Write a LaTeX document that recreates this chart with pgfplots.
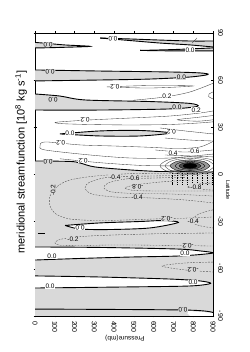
\documentclass[border=0pt]{standalone}
\usepackage{pgfplots}
\pgfplotsset{compat=1.18}
\usepackage{fontspec}
\setmainfont{Liberation Sans}
\pgfplotsset{
  zero/.style={black, line width=0.9pt, smooth},
  pos/.style={black!75, line width=0.35pt, smooth},
  neg/.style={black!70, line width=0.35pt, dash pattern=on 1.8pt off 1.2pt, smooth},
  gfill/.style={fill=black!15, draw=none, smooth},
  wfill/.style={fill=white, draw=none, smooth},
  vdash/.style={black, line width=0.7pt, dash pattern=on 1.4pt off 0.9pt},
}
\tikzset{
  lab/.style={font=\fontsize{6.5}{6.5}\selectfont, inner sep=0.4pt},
  lw/.style={lab, fill=white},
  lg/.style={lab, fill=black!15},
}
\begin{document}
\begin{tikzpicture}
\path[use as bounding box] (-35pt,-36pt) rectangle (214pt,316pt);
\begin{axis}[at={(0pt,0pt)}, anchor=south west, scale only axis,
  width=178pt, height=283pt,
  xmin=0, xmax=900, ymin=-90, ymax=90,
  xtick={0,100,...,900}, xticklabels={0,100,200,300,400,500,600,700,800,900},
  ytick={-90,-60,-30,0,30,60,90}, yticklabels={-90,-60,-30,0,30,60,90},
  yticklabel pos=right,
  xticklabel style={rotate=-90, anchor=west, font=\fontsize{7}{8}\selectfont},
  yticklabel style={rotate=-90, anchor=south, font=\fontsize{7}{8}\selectfont},
  tick align=center, major tick length=3pt,
  tick style={black, line width=0.4pt},
  axis line style={line width=0.5pt},
  axis background/.style={fill=white}]

% ---------- gray (negative) regions ----------
\addplot[fill=black!15, draw=none] coordinates {(0,1.6) (900,1.6) (900,-90) (0,-90)} -- cycle;
\addplot[gfill] coordinates {(0,8.6) (177,8.3) (228,7.3) (303,4.8) (480,2.9) (632,1.9) (708,2.2) (784,1.6) (900,1.6) (900,0) (0,0)} -- cycle;
\addplot[gfill] coordinates {(0,84.0) (60,83.4) (150,82.4) (278,81.5) (150,80.9) (60,80.6) (0,80.5)} -- cycle;
\addplot[gfill] coordinates {(329,86.8) (480,86.2) (632,85.5) (784,84.9) (900,84.9) (900,81.1) (784,82.4) (632,83.6) (480,85.2)} -- cycle;
\addplot[gfill] coordinates {(531,78.9) (708,79.5) (900,80.5) (900,78.6) (708,78.6)} -- cycle;
\addplot[gfill] coordinates {(0,66.5) (329,65.8) (683,65.2) (834,64.6) (875,63.6) (784,62.0) (581,60.7) (329,60.1) (0,59.5)} -- cycle;
\addplot[gfill] coordinates {(0,51.2) (126,49.9) (253,47.4) (581,46.4) (784,45.2) (820,43.3) (683,41.7) (329,41.0) (0,41.0)} -- cycle;
\addplot[gfill] coordinates {(126,25.8) (329,27.7) (531,28.0) (683,26.4) (531,24.5) (329,24.5) (126,25.8)};
% white (positive) pockets in the south
\addplot[wfill] coordinates {(152,-32.4) (329,-30.8) (531,-29.9) (647,-29.3) (725,-30.5) (581,-34.0) (379,-35.0) (228,-34.7) (152,-32.4)};
\addplot[wfill] coordinates {(0,-46.1) (329,-46.4) (718,-47.4) (834,-48.6) (898,-50.0) (733,-51.8) (480,-52.5) (228,-53.4) (0,-54.4)} -- cycle;
\addplot[wfill] coordinates {(0,-64.5) (329,-65.2) (683,-66.5) (834,-67.7) (888,-69.3) (784,-70.9) (480,-71.5) (0,-72.2)} -- cycle;
\addplot[fill=white, draw=none] coordinates {(758,-86.6) (900,-88.0) (900,-90) (784,-90)} -- cycle;

% ---------- positive contours ----------
\addplot[pos] coordinates {(364,55.7) (581,56.6) (799,56.3) (581,55.0) (364,55.7)};
\addplot[pos] coordinates {(496,47.2) (657,49.3) (784,52.5) (900,58.0)};
\addplot[pos] coordinates {(900,52.5) (880,51.2) (878,49.6) (900,48.0)};
\addplot[pos] coordinates {(794,83.6) (819,86.8)};
\addplot[pos] coordinates {(900,40.4) (834,39.1) (683,37.2) (480,35.9) (278,34.7) (140,33.6) (101,33.0) (140,32.3) (278,31.8) (480,31.5) (683,31.8) (834,32.8) (900,33.5)};
\addplot[pos] coordinates {(900,37.5) (820,36.3) (720,34.8) (820,33.9) (900,34.8)};
\addplot[pos] coordinates {(632,29.6) (758,27.7) (900,25.8)};
\addplot[pos] coordinates {(657,23.2) (784,21.9) (900,21.3)};
\addplot[pos] coordinates {(900,21.0) (834,17.5) (723,16.5) (581,17.3) (404,18.1) (228,18.8) (51,20.7) (25,18.1) (51,15.6) (278,12.4) (480,10.5) (683,10.5) (900,13.0)};
\addplot[pos] coordinates {(607,15.6) (758,14.3) (900,15.6)};
\addplot[pos] coordinates {(657,12.4) (784,11.8) (900,11.2)};
\addplot[pos] coordinates {(126,10.0) (329,7.5) (531,5.8) (683,5.5) (740,6.0)};
% dense cell near the surface north of the equator
\addplot[pos] coordinates {(936,5.5) (890,9.5) (784,11.2) (678,9.5) (632,5.5) (678,1.5) (784,-0.2) (890,1.5) (936,5.5)};
\addplot[pos] coordinates {(910,5.5) (872,8.9) (784,10.3) (696,8.9) (658,5.5) (696,2.1) (784,0.7) (872,2.1) (910,5.5)};
\addplot[fill=black!40, draw=black, line width=0.35pt, smooth] coordinates {(885,5.5) (855,8.2) (784,9.3) (713,8.2) (683,5.5) (713,2.8) (784,1.7) (855,2.8) (885,5.5)};
\addplot[pos, black] coordinates {(860,5.5) (837,7.5) (784,8.4) (731,7.5) (708,5.5) (731,3.5) (784,2.6) (837,3.5) (860,5.5)};
\addplot[fill=black!70, draw=black, line width=0.35pt, smooth] coordinates {(840,5.5) (823,7.0) (784,7.7) (745,7.0) (728,5.5) (745,4.0) (784,3.3) (823,4.0) (840,5.5)};
\addplot[fill=black, draw=black, line width=0.35pt, smooth] coordinates {(819,5.5) (809,6.6) (784,7.1) (759,6.6) (749,5.5) (759,4.4) (784,3.9) (809,4.4) (819,5.5)};

% ---------- negative contours ----------
\addplot[neg] coordinates {(900,0.3) (683,0.8) (480,0.5) (303,-1.0) (177,-3.5) (116,-7.3) (76,-13.7) (76,-20.0) (106,-25.1) (177,-28.3) (329,-29.3) (531,-28.6) (667,-28.0) (784,-27.7) (900,-27.0)};
\addplot[neg] coordinates {(758,-0.6) (581,-1.0) (379,-1.6) (278,-4.8) (253,-8.6) (288,-12.4) (404,-14.3) (581,-14.9) (758,-16.2) (900,-18.1)};
\addplot[neg] coordinates {(758,-1.8) (581,-2.3) (455,-2.9) (369,-5.4) (349,-8.6) (389,-11.1) (506,-12.1) (683,-12.4) (900,-13.7)};
\addplot[neg] coordinates {(784,-3.5) (632,-4.8) (506,-6.7) (455,-8.6) (506,-10.2) (657,-10.5) (900,-10.5)};
\addplot[neg] coordinates {(900,-5.4) (834,-6.0) (770,-8.0) (834,-9.4) (900,-9.9)};
\addplot[neg] coordinates {(900,-22.5) (830,-25) (790,-29.6) (830,-32.5) (900,-34)};
\addplot[neg] coordinates {(900,-37.2) (581,-37.8) (278,-39.1) (137,-41.0) (101,-43.6) (152,-45.2) (430,-44.8) (733,-45.2) (900,-45.5)};
\addplot[neg] coordinates {(900,-55.7) (758,-56.3) (642,-58.2) (758,-60.7) (900,-62.0)};
% packed contours just south of the equator near the surface
\addplot[vdash] coordinates {(693,1.0) (693,-6.5)};
\addplot[vdash] coordinates {(718,1.2) (718,-6.5)};
\addplot[vdash] coordinates {(743,1.2) (743,-6.5)};
\addplot[vdash] coordinates {(768,1.2) (768,-6.5)};
\addplot[vdash] coordinates {(794,1.2) (794,-6.5)};
\addplot[vdash] coordinates {(819,1.2) (819,-6.5)};
\addplot[vdash] coordinates {(844,1.2) (844,-6.5)};
\addplot[vdash] coordinates {(869,1.2) (869,-6.5)};
\addplot[vdash] coordinates {(895,1.2) (895,-6.5)};

% ---------- zero contours ----------
\addplot[zero] coordinates {(0,84.0) (60,83.4) (150,82.4) (278,81.5) (150,80.9) (60,80.6) (0,80.5)};
\addplot[zero] coordinates {(329,86.8) (480,86.2) (632,85.5) (784,84.9) (900,84.9)};
\addplot[zero] coordinates {(329,86.8) (480,85.2) (632,83.6) (784,82.4) (900,81.1)};
\addplot[zero] coordinates {(531,78.9) (708,79.5) (900,80.5)};
\addplot[zero] coordinates {(531,78.9) (708,78.6) (900,78.6)};
\addplot[zero] coordinates {(0,66.5) (329,65.8) (683,65.2) (834,64.6) (875,63.6) (784,62.0) (581,60.7) (329,60.1) (0,59.5)};
\addplot[zero] coordinates {(0,51.2) (126,49.9) (253,47.4) (581,46.4) (784,45.2) (820,43.3) (683,41.7) (329,41.0) (0,41.0)};
\addplot[zero] coordinates {(126,25.8) (329,27.7) (531,28.0) (683,26.4) (531,24.5) (329,24.5) (126,25.8)};
\addplot[zero] coordinates {(0,8.6) (177,8.3) (228,7.3) (303,4.8) (480,2.9) (632,1.9) (708,2.2) (784,1.6) (900,1.6)};
\addplot[zero] coordinates {(152,-32.4) (329,-30.8) (531,-29.9) (647,-29.3) (725,-30.5) (581,-34.0) (379,-35.0) (228,-34.7) (152,-32.4)};
\addplot[zero] coordinates {(15,-37.3) (51,-37.3)};
\addplot[zero] coordinates {(0,-46.1) (329,-46.4) (718,-47.4) (834,-48.6) (898,-50.0) (733,-51.8) (480,-52.5) (228,-53.4) (0,-54.4)};
\addplot[zero] coordinates {(0,-64.5) (329,-65.2) (683,-66.5) (834,-67.7) (888,-69.3) (784,-70.9) (480,-71.5) (0,-72.2)};
\addplot[zero] coordinates {(0,-85.6) (758,-86.2) (900,-87.8)};

% ---------- contour labels ----------
\node[lg, rotate=180] at (66,82.6) {0.0};
\node[lw, rotate=180] at (394,86.3) {0.0};
\node[lw] at (784,79.2) {0.0};
\node[lg, rotate=180] at (76,65.5) {0.0};
\node[lg] at (740,61.6) {0.0};
\node[lw, rotate=180] at (404,55.9) {0.2};
\node[lw] at (667,49.6) {0.2};
\node[lg, rotate=180] at (91,47.6) {0.0};
\node[lg] at (718,43.0) {0.0};
\node[lw] at (815,41.0) {0.2};
\node[lw, rotate=180] at (253,34.6) {0.2};
\node[lw] at (177,26.3) {0.0};
\node[lw, rotate=180] at (690,27.4) {0.2};
\node[lw, rotate=180] at (130,20.2) {0.2};
\node[lw, rotate=180] at (243,8.9) {0.2};
\node[lg, rotate=180] at (66,8.1) {0.0};
\node[lw] at (698,13.8) {0.4};
\node[lw] at (809,14.8) {0.6};
\node[lg, rotate=90, inner sep=0.2pt] at (92,-10.0) {-0.2};
\node[lg] at (404,-1.6) {-0.4};
\node[lg] at (500,-2.5) {-0.6};
\node[lg, rotate=180] at (520,-8.0) {-0.8};
\node[lg] at (814,-8.0) {-0.8};
\node[lg] at (516,-14.6) {-0.4};
\node[lw, rotate=180] at (228,-33.6) {0.0};
\node[lg, rotate=180] at (667,-28.0) {-0.2};
\node[lg] at (800,-29.6) {-0.4};
\node[lg] at (192,-41.5) {-0.2};
\node[lg, rotate=180] at (774,-45.3) {-0.2};
\node[lw] at (758,-50.2) {0.0};
\node[lw] at (86,-52.2) {0.0};
\node[lg, rotate=180] at (799,-60.5) {-0.2};
\node[lw] at (799,-68.8) {0.0};
\node[lw] at (76,-71.0) {0.0};
\node[lg, rotate=180] at (748,-86.3) {0.0};
\end{axis}
\node[rotate=90, font=\fontsize{11}{13}\selectfont] at (-14pt,154pt) {meridional streamfunction [10\textsuperscript{8} kg s\textsuperscript{-1}]};
\node[rotate=-90, font=\fontsize{5.5}{6}\selectfont] at (193pt,126pt) {Latitude};
\node[rotate=180, font=\fontsize{6.5}{7}\selectfont] at (90pt,-22pt) {Pressure(mb)};
\end{tikzpicture}
\end{document}
